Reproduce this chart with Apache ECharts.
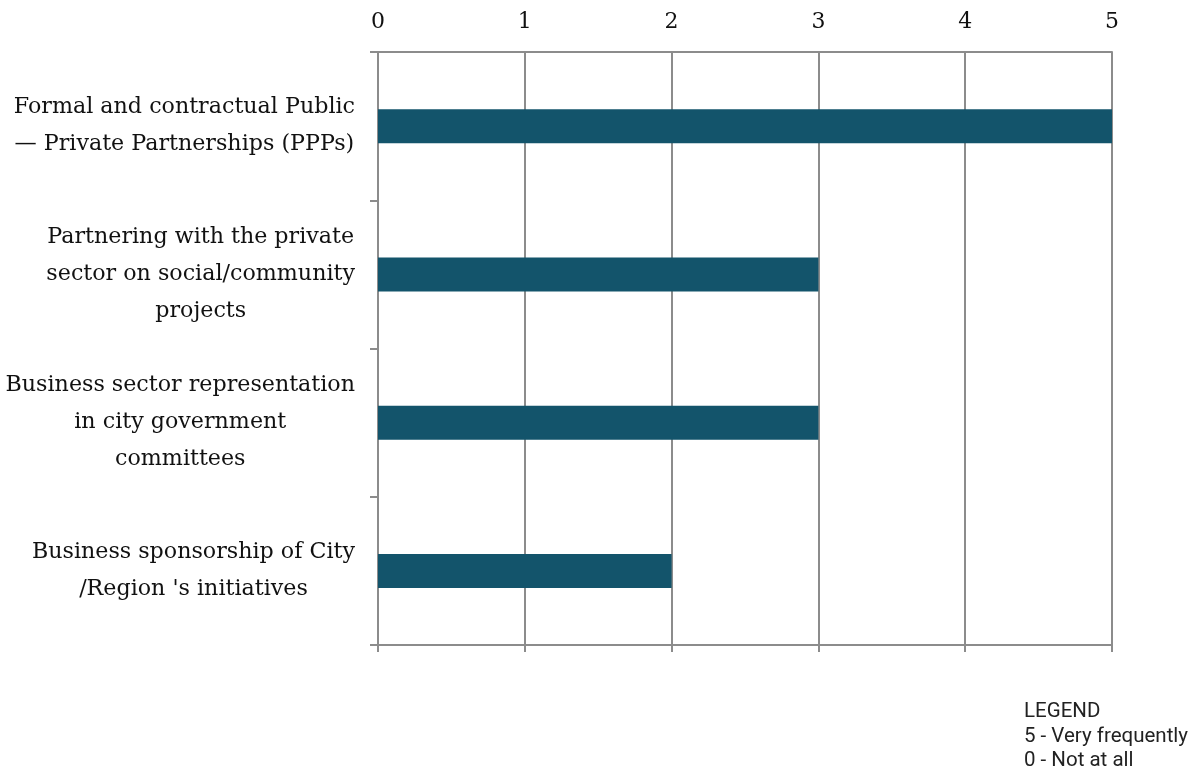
<!DOCTYPE html>
<html>
<head>
<meta charset="utf-8">
<script src="https://cdn.jsdelivr.net/npm/echarts@6/dist/echarts.min.js"></script>
<style>
html,body{margin:0;padding:0;background:#fff;}
#chart{width:1201px;height:776px;}
</style>
</head>
<body>
<div id="chart"></div>
<script>
var categories = [
  "Formal and contractual Public\n— Private Partnerships (PPPs)",
  "Partnering with the private\nsector on social/community\nprojects",
  "Business sector representation\nin city government\ncommittees",
  "Business sponsorship of City\n/Region 's initiatives"
];
var values = [5, 3, 3, 2];
var legendLines = ["LEGEND", "5 - Very frequently", "0 - Not at all"];

var GRID = '#8c8c8c';
var SERIF = '"DejaVu Serif", "Liberation Serif", serif';

var chart = echarts.init(document.getElementById('chart'), null, {renderer: 'canvas'});
chart.setOption({
  animation: false,
  backgroundColor: '#ffffff',
  grid: {left: 378, right: 89, top: 52, bottom: 131, containLabel: false, outerBoundsMode: 'none'},
  xAxis: [{
    type: 'value', position: 'top', min: 0, max: 5, interval: 1,
    axisLine: {show: true, lineStyle: {color: GRID, width: 2}},
    axisTick: {show: false},
    axisLabel: {show: true, margin: 19, color: '#111', fontFamily: SERIF, fontSize: 22},
    splitLine: {show: true, lineStyle: {color: GRID, width: 2}}
  }, {
    type: 'value', position: 'bottom', min: 0, max: 5, interval: 1,
    axisLine: {show: true, lineStyle: {color: GRID, width: 2}},
    axisTick: {show: true, length: 7, lineStyle: {color: GRID, width: 2}},
    axisLabel: {show: false},
    splitLine: {show: false}
  }],
  yAxis: {
    type: 'category', data: categories, inverse: true,
    axisLine: {show: true, lineStyle: {color: GRID, width: 2}},
    axisTick: {show: true, length: 8, lineStyle: {color: GRID, width: 2}},
    axisLabel: {
      margin: 23, color: '#111', fontFamily: SERIF, fontSize: 22.2, lineHeight: 37, align: 'right',
      formatter: function (v) {
        return v.split('\n').map(function (l) { return '{c|' + l + '}'; }).join('\n');
      },
      rich: {c: {align: 'center', fontFamily: SERIF, fontSize: 22.2, lineHeight: 37, color: '#111'}}
    },
    splitLine: {show: false}
  },
  series: [{
    type: 'bar', data: values, xAxisIndex: 0, barWidth: 34,
    itemStyle: {color: '#13546b'}
  }],
  graphic: [{
    type: 'text', left: 1024, top: 700,
    style: {text: legendLines.join('\n'), fontFamily: 'Roboto, "Noto Sans", sans-serif', fontSize: 20.5, lineHeight: 24.5, fill: '#222'}
  }]
});
</script>
</body>
</html>
